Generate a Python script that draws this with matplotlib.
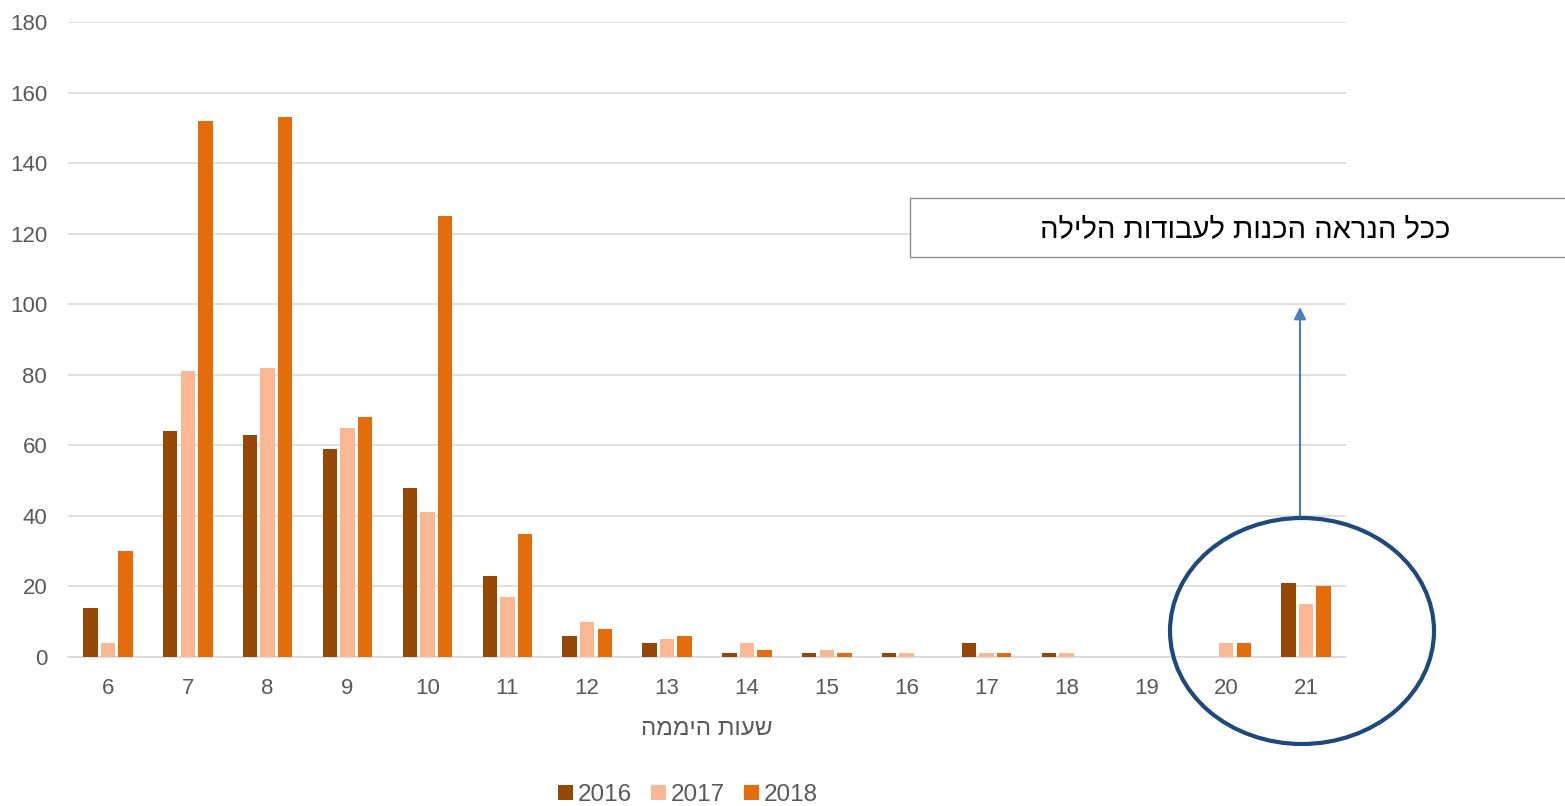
import matplotlib
matplotlib.use("Agg")
import matplotlib.pyplot as plt
from matplotlib.patches import Ellipse, Rectangle
import numpy as np

plt.rcParams['font.family'] = ['Liberation Sans', 'DejaVu Sans']

hours = ['6', '7', '8', '9', '10', '11', '12', '13', '14', '15', '16', '17', '18', '19', '20', '21']
years = ['2016', '2017', '2018']
v2016 = [14, 64, 63, 59, 48, 23, 6, 4, 1, 1, 1, 4, 1, 0, 0, 21]
v2017 = [4, 81, 82, 65, 41, 17, 10, 5, 4, 2, 1, 1, 1, 0, 4, 15]
v2018 = [30, 152, 153, 68, 125, 35, 8, 6, 2, 1, 0, 1, 0, 0, 4, 20]
xlabel = "שעות היממה"
note = "ככל הנראה הכנות לעבודות הלילה"

colors = ['#974706', '#FAB793', '#E46C0A']

def vis(s):
    return s[::-1]

fig = plt.figure(figsize=(15.65, 8.06), dpi=100)
ax = fig.add_axes([68/1565, 1-657/806, (1346-68)/1565, (657-22)/806])

x = np.arange(len(hours))
w = 0.18
off = 0.22
for i, (vals, c, lab) in enumerate(zip([v2016, v2017, v2018], colors, years)):
    ax.bar(x + (i-1)*off, vals, width=w, color=c, label=lab, zorder=3)

ax.set_xlim(-0.5, len(hours)-0.5)
ax.set_ylim(0, 180)
ax.set_yticks(np.arange(0, 181, 20))
ax.set_xticks(x)
ax.set_xticklabels(hours)
ax.grid(axis='y', color='#d9d9d9', linewidth=1.2, zorder=0)
for s in ['top', 'right', 'left']:
    ax.spines[s].set_visible(False)
ax.spines['bottom'].set_color('#d9d9d9')
ax.spines['bottom'].set_linewidth(1.2)
ax.tick_params(axis='both', length=0, labelsize=16, colors='#595959')
ax.tick_params(axis='y', pad=15)
ax.tick_params(axis='x', pad=15)
ax.set_xlabel(vis(xlabel), fontsize=17.5, color='#595959', labelpad=14)

leg = fig.legend(loc='center', bbox_to_anchor=(688/1565, 1-795/806), ncol=3,
                 frameon=False, fontsize=17.5, handlelength=0.6, handleheight=0.6,
                 handletextpad=0.2, columnspacing=0.8, labelcolor='#595959')

# Annotation box
rect = Rectangle((910/1565, 1-257/806), (1570-910)/1565, (257-198)/806,
                 transform=fig.transFigure, facecolor='white', edgecolor='#8c8c8c',
                 linewidth=1.0, zorder=5)
fig.patches.append(rect)
fig.text(1450/1565, 1-230/806, vis(note), ha='right', va='center',
         fontsize=21, color='black', zorder=6)

ppu_x = (1346-68)/16
ppu_y = 635/180
# Ellipse around 20-21
ell = Ellipse(((1302-68)/ppu_x - 0.5, (657-631)/ppu_y), width=264/ppu_x, height=226/ppu_y,
              transform=ax.transData, fill=False, edgecolor='#1F497D',
              linewidth=3, clip_on=False, zorder=6)
ax.add_patch(ell)

# Arrow
xa = (1300-68)/ppu_x - 0.5
ax.annotate('', xy=(xa, (657-307)/ppu_y), xytext=(xa, (657-518)/ppu_y),
            arrowprops=dict(arrowstyle='-|>', color='#4A7EBB', lw=1.5,
                            mutation_scale=18, shrinkA=0, shrinkB=0),
            annotation_clip=False)

fig.savefig('out.png', dpi=100)
